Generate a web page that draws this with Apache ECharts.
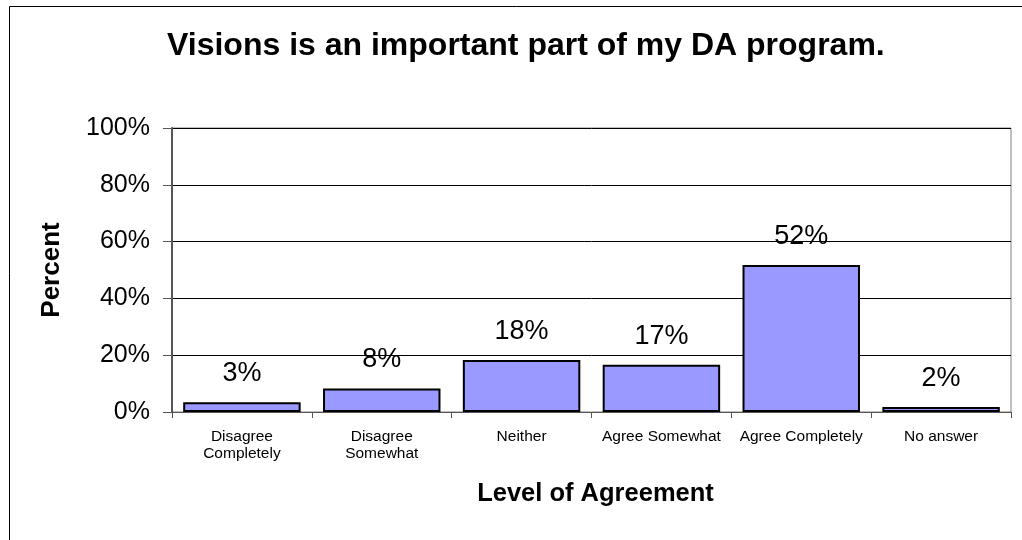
<!DOCTYPE html>
<html><head><meta charset="utf-8">
<script src="https://cdn.jsdelivr.net/npm/echarts@6/dist/echarts.min.js"></script>
<style>html,body{margin:0;padding:0;background:#fff}#c{width:1022px;height:540px}</style>
</head><body><div id="c"></div>
<script>
const categories = ['Disagree\nCompletely','Disagree\nSomewhat','Neither','Agree Somewhat','Agree Completely','No answer'];
const values = [3.4, 8.3, 18.3, 16.6, 51.8, 1.8];
const labels = ['3%','8%','18%','17%','52%','2%'];
const yTicks = [0,20,40,60,80,100];
const FONT = '"Liberation Sans", Arial, sans-serif';
const chart = echarts.init(document.getElementById('c'), null, {renderer:'canvas'});
chart.setOption({
  animation:false,
  backgroundColor:'#fff',
  title:{text:'Visions is an important part of my DA program.',left:162,top:25,
    textStyle:{fontFamily:FONT,fontSize:32,fontWeight:'bold',color:'#000'}},
  graphic:[{type:'rect',shape:{x:9.5,y:6.5,width:1100,height:700},style:{fill:'none',stroke:'#000',lineWidth:1},silent:true}],
  grid:{left:172,top:128,right:11,bottom:128,show:true,borderColor:'#808080',borderWidth:1,containLabel:false},
  xAxis:{type:'category',data:categories,
    name:'Level of Agreement',nameLocation:'middle',nameGap:69,
    nameTextStyle:{fontFamily:FONT,fontSize:25.5,fontWeight:'bold',color:'#000',padding:[0,0,0,8]},
    axisLine:{lineStyle:{color:'#555',width:1}},
    axisTick:{show:true,length:6,interval:0,lineStyle:{color:'#555'}},
    axisLabel:{interval:0,fontFamily:FONT,fontSize:15.5,lineHeight:17,color:'#000',margin:16}},
  yAxis:{type:'value',min:0,max:100,interval:20,
    name:'Percent',nameLocation:'middle',nameGap:107,nameRotate:90,
    nameTextStyle:{fontFamily:FONT,fontSize:26,fontWeight:'bold',color:'#000'},
    axisLine:{show:true,lineStyle:{color:'#555',width:2}},
    axisTick:{show:true,length:9,inside:false,lineStyle:{color:'#555'}},
    splitLine:{lineStyle:{color:'#000',width:1}},
    axisLabel:{fontFamily:FONT,fontSize:25,color:'#000',margin:22,
      formatter:v=>yTicks.includes(v)?v+'%':''}},
  series:[{type:'bar',data:values,barCategoryGap:'16%',
    itemStyle:{color:'#9999FF',borderColor:'#000',borderWidth:2},
    label:{show:true,position:'top',distance:15,fontFamily:FONT,fontSize:27,color:'#000',
      formatter:p=>labels[p.dataIndex]}}]
});
</script></body></html>
